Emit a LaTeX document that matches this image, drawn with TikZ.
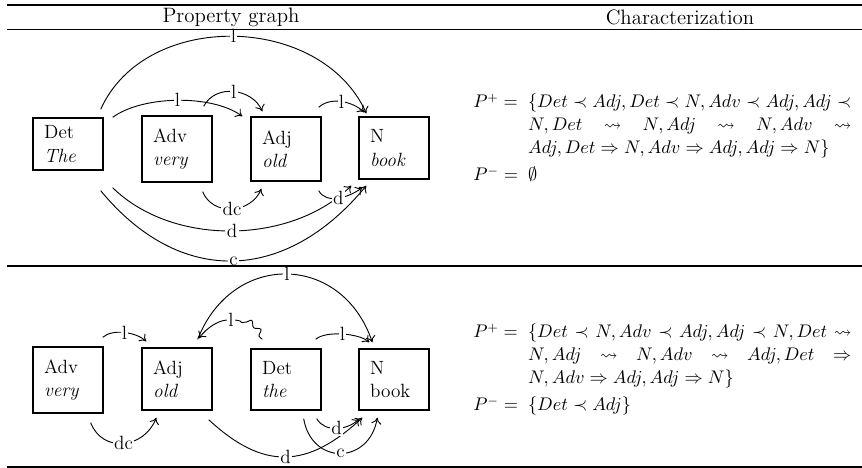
\documentclass[tikz,border=0pt]{standalone}
\usepackage{amsmath,amssymb}
\usetikzlibrary{arrows.meta,decorations.pathmorphing,calc}
\begin{document}
\begin{tikzpicture}[x=0.6pt,y=-0.6pt,
  font=\fontsize{11.5}{14}\selectfont,
  box/.style={draw,line width=0.8pt,rectangle,minimum width=42pt,text width=28.6pt,inner xsep=6.7pt,inner ysep=0pt,align=left},
  edge/.style={line width=0.55pt,-{To[length=3.8pt,width=6pt]}},
  plain/.style={line width=0.55pt},
  lab/.style={fill=white,inner sep=0.8pt},
  rulel/.style={line width=0.9pt},
  hdr/.style={font=\fontsize{12.5}{15}\selectfont,inner sep=0pt},
  chr/.style={anchor=base west,inner sep=0pt,font=\fontsize{10.5}{13.6}\selectfont}]
\useasboundingbox (0,0) rectangle (862,468);

% headers
\node[hdr] (h1) at (231,17) {Property graph};
\node[hdr] (h2) at (680,17) {Characterization};

% ---------- top graph ----------
\node[box,minimum height=31.2pt] (det1) at (68,144) {Det\\\textit{The}};
\node[box,minimum height=39.6pt] (adv1) at (177,149) {Adv\\\textit{very}};
\node[box,minimum height=38.4pt] (adj1) at (286,149) {Adj\\\textit{old}};
\node[box,minimum height=37.2pt] (n1) at (394,148) {N\\\textit{book}};

\draw[edge] ($(det1.north east)+(-3,-8)$) .. controls +(45,-100) and +(-45,-100) .. node[lab] (e1) {l} ($(n1.north west)+(8,-3)$);
\draw[edge] ($(det1.north east)+(9,0)$) .. controls +(30,-22) and +(-30,-22) .. node[lab] (e2) {l} ($(adj1.north west)+(-8,0)$);
\draw[edge] ($(adv1.north east)+(-9,-9)$) .. controls +(12,-23) and +(-10,-23) .. node[lab] (e3) {l} ($(adj1.north west)+(12,-5)$);
\draw[edge] ($(adj1.north east)+(-3,-9)$) .. controls +(12,-11) and +(-12,-11) .. node[lab] (e4) {l} ($(n1.north west)+(6,-4)$);
\draw[edge] ($(adv1.south east)+(-10,9)$) .. controls +(10,25) and +(-10,25) .. node[lab] (e5) {dc} ($(adj1.south west)+(11,7)$);
\draw[edge] ($(det1.south east)+(9,17)$) .. controls +(60,59) and +(-60,59) .. node[lab] (e7) {d} ($(n1.south west)+(-7,6)$);
\draw[edge] ($(det1.south east)+(-3,20)$) .. controls +(80,97) and +(-80,97) .. node[lab] (e8) {c} ($(n1.south west)+(8,6)$);
\draw[edge] ($(adj1.south east)+(-3,9)$) .. controls +(8,14) and +(-14,10) .. node[lab] (e6) {d} ($(n1.south west)+(4,8)$);

% ---------- bottom graph ----------
\node[box,minimum height=39.6pt] (adv2) at (68,380) {Adv\\\textit{very}};
\node[box,minimum height=37.2pt] (adj2) at (177,379) {Adj\\\textit{old}};
\node[box,minimum height=36.6pt] (det2) at (286,379.5) {Det\\\textit{the}};
\node[box,minimum height=36.6pt] (n2) at (394,379.5) {N\\book};

\draw[edge] ($(adv2.north east)+(-1,-9)$) .. controls +(10,-9) and +(-10,-9) .. node[lab] (f1) {l} ($(adj2.north west)+(5,-6)$);
\draw[edge] ($(adj2.north east)+(-15,-8)$) .. controls +(35,-89) and +(-30,-89) .. node[lab] (f2) {l} ($(n2.north west)+(14,-6)$);
\draw[edge] ($(det2.north east)+(-6,-9)$) .. controls +(10,-9) and +(-10,-9) .. node[lab] (f4) {l} ($(n2.north west)+(11,-6)$);
% wavy l (Det -> Adj)
\node[lab] (lw) at (231,320) {l};
\coordinate (wst) at ($(det2.north west)+(12,-9)$);
\coordinate (wen) at ($(adj2.north east)+(-14,-9)$);
\draw[plain,decorate,decoration={snake,amplitude=1.4pt,segment length=7pt}] (wst) .. controls +(-4,-14) and +(10,2) .. (lw.east);
\draw[edge] (lw.west) .. controls +(-10,1) and +(8,-10) .. (wen);

\draw[edge] ($(adv2.south east)+(-13,9)$) .. controls +(12,31) and +(-12,31) .. node[lab] (f5) {dc} ($(adj2.south west)+(15,7)$);
\draw[edge] ($(adj2.south east)+(-4,9)$) .. controls +(55,51) and +(-55,51) .. node[lab] (f6) {d} ($(n2.south west)+(4,7)$);
\draw[edge] ($(det2.south east)+(-18,8)$) .. controls +(8,47) and +(-8,47) .. node[lab] (f8) {c} ($(n2.south west)+(19,7)$);
\draw[edge] ($(det2.south east)+(-5,8)$) .. controls +(8,14) and +(-12,12) .. node[lab] (f7) {d} ($(n2.south west)+(1,8)$);

% ---------- characterizations ----------
\node[chr] (char1) at (473,108) {\begin{tabular}[t]{@{}l@{\hspace{6pt}}p{194pt}@{}}
$P^+ =$ & $\{Det \prec Adj, Det \prec N, Adv \prec Adj, Adj \prec$\linebreak $N, Det \leadsto N, Adj \leadsto N, Adv \leadsto$\linebreak $Adj, Det \Rightarrow N, Adv \Rightarrow Adj, Adj \Rightarrow N\}$\\[3pt]
$P^- =$ & $\emptyset$
\end{tabular}};

\node[chr] (char2) at (473,338) {\begin{tabular}[t]{@{}l@{\hspace{6pt}}p{194pt}@{}}
$P^+ =$ & $\{Det \prec N, Adv \prec Adj, Adj \prec N, Det \leadsto$\linebreak $N, Adj \leadsto N, Adv \leadsto Adj, Det \Rightarrow$\linebreak $N, Adv \Rightarrow Adj, Adj \Rightarrow N\}$\\[3pt]
$P^- =$ & $\{Det \prec Adj\}$
\end{tabular}};

% rules (drawn last)
\coordinate (r0l) at (7,5);   \coordinate (r0r) at (862,5);
\coordinate (r1l) at (7,29.5);  \coordinate (r1r) at (862,29.5);
\coordinate (r2l) at (7,266); \coordinate (r2r) at (862,266);
\coordinate (r3l) at (7,467); \coordinate (r3r) at (862,467);
\draw[rulel] (r0l) -- (r0r);
\draw[rulel] (r1l) -- (r1r);
\draw[rulel] (r2l) -- (r2r);
\draw[rulel] (r3l) -- (r3r);
\end{tikzpicture}
\end{document}
